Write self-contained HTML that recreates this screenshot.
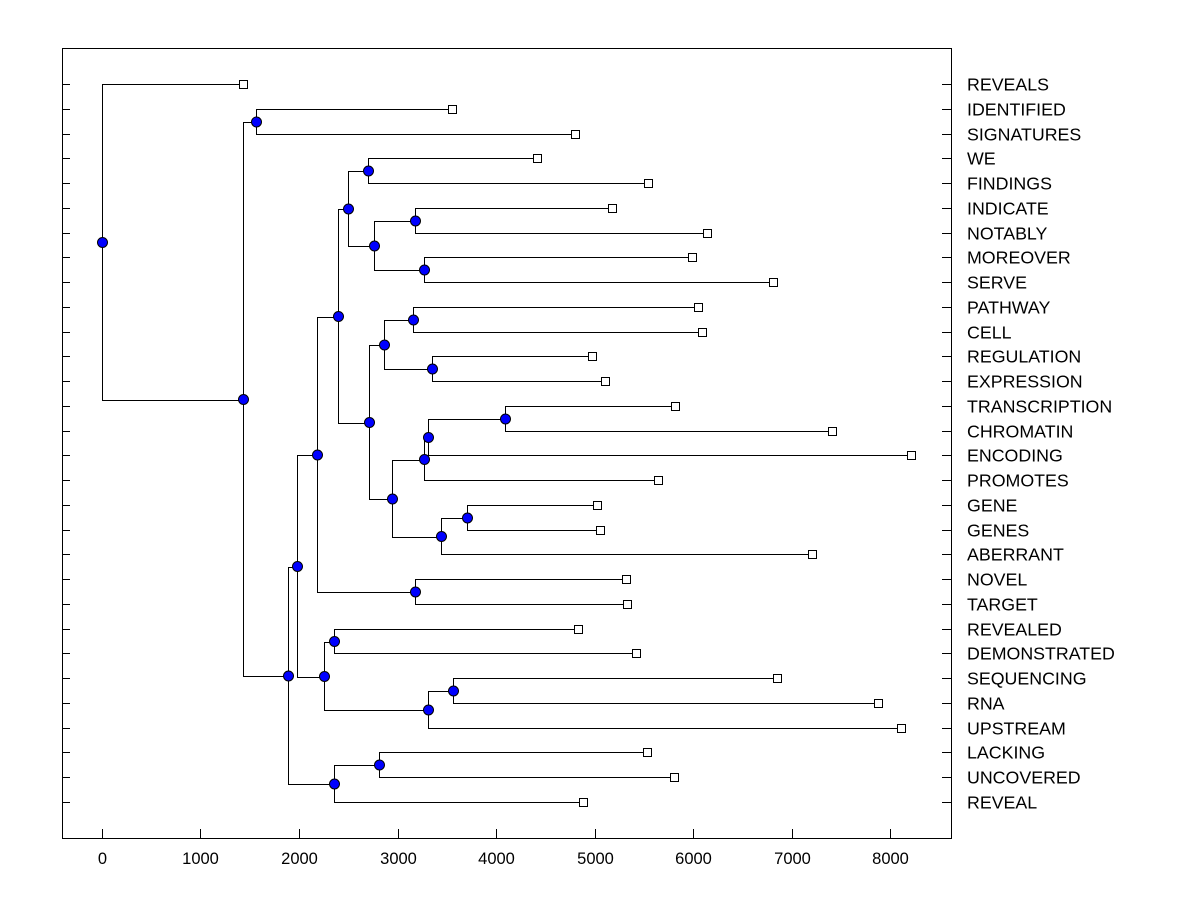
<!DOCTYPE html>
<html><head><meta charset="utf-8"><style>
html,body{margin:0;padding:0;background:#fff;}
svg{display:block;font-family:"Liberation Sans",Arial,sans-serif;}
</style></head><body>
<svg id="chart" width="1200" height="900" viewBox="0 0 1200 900" xmlns="http://www.w3.org/2000/svg">
<rect x="0" y="0" width="1200" height="900" fill="#fff"/>
<rect x="62.5" y="48.5" width="889" height="790" fill="none" stroke="#000" stroke-width="1"/>
<g id="g"></g>
</svg>
<script>
const leafLabels = ["REVEALS","IDENTIFIED","SIGNATURES","WE","FINDINGS","INDICATE","NOTABLY","MOREOVER","SERVE","PATHWAY","CELL","REGULATION","EXPRESSION","TRANSCRIPTION","CHROMATIN","ENCODING","PROMOTES","GENE","GENES","ABERRANT","NOVEL","TARGET","REVEALED","DEMONSTRATED","SEQUENCING","RNA","UPSTREAM","LACKING","UNCOVERED","REVEAL"];
const leafValues = [1430,3550,4800,4420,5540,5180,6140,5990,6810,6050,6090,4970,5110,5820,7410,8210,5640,5030,5060,7210,5320,5330,4830,5420,6850,7880,8110,5530,5810,4880];
// internal nodes: name, value, child1, child2 (leaf index as number, node name as string)
const nodeNames = ["B","N","O","M","L","J","R","S","P","V","T","W","X","U","Q","K","H","I","F","Y","AA","Z","G","D","AB","E","C","A","root"];
const nodeValues = [1563,3178,3269,2761,2700,2497,3157,3350,2863,4091,3310,3269,3706,3442,2944,2711,2396,3178,2183,2355,3563,3310,2254,1980,2812,2355,1888,1430,0];
const nodeChildren = [[1,2],[5,6],[7,8],["N","O"],[3,4],["L","M"],[9,10],[11,12],["R","S"],[13,14],["V",15],["T",16],[17,18],["X",19],["W","U"],["P","Q"],["J","K"],[20,21],["H","I"],[22,23],[24,25],["AA",26],["Y","Z"],["F","G"],[27,28],["AB",29],["D","E"],["B","C"],[0,"A"]];
const xTicks = [0,1000,2000,3000,4000,5000,6000,7000,8000];

const X0=62,X1=951,VMIN=-406,VMAX=8619;
const px = v => Math.round(v)+0.5;
const xs = v => px(X0 + (v-VMIN)/(VMAX-VMIN)*(X1-X0));
const ys = i => px(84 + i*(802-84)/29);
const NS="http://www.w3.org/2000/svg";
const g=document.getElementById('g');
function mk(t,a){const e=document.createElementNS(NS,t);for(const k in a)e.setAttribute(k,a[k]);g.appendChild(e);return e;}

leafLabels.forEach((lab,i)=>{
  const y=ys(i);
  const t1=mk('line',{x1:62,x2:70,y1:y,y2:y,stroke:'#000'});
  
  
  const t2=mk('line',{x1:942,x2:951,y1:y,y2:y,stroke:'#000'});
  
  
  const tx=mk('text',{x:967,y:y+6,'font-size':17.8,fill:'#000'});
  tx.textContent=lab;
  
  
});
xTicks.forEach(v=>{
  const x=xs(v);
  const l=mk('line',{x1:x,x2:x,y1:829,y2:838,stroke:'#000'});
  
  
  const t=mk('text',{x:x,y:864,'font-size':16.5,'text-anchor':'middle',fill:'#000'});
  t.textContent=v;
  
  
});

const pos={};
leafValues.forEach((v,i)=>{pos[i]={x:xs(v),y:ys(i)};});
const dots=[];
nodeNames.forEach((n,k)=>{
  const [a,b]=nodeChildren[k];
  const pa=pos[a], pb=pos[b];
  const x=xs(nodeValues[k]);
  const y=(pa.y+pb.y)/2;
  pos[n]={x:x,y:px(y)};
  const p=mk('path',{d:`M${pa.x},${pa.y}H${x}V${pb.y}H${pb.x}`,fill:'none',stroke:'#000','stroke-width':1,'shape-rendering':'crispEdges'});
  
  
  dots.push([n,x,y]);
});
leafValues.forEach((v,i)=>{
  const r=mk('rect',{x:xs(v)-4,y:ys(i)-4,width:8,height:8,fill:'#fff',stroke:'#000'});
  
  
});
dots.forEach(([n,x,y])=>{
  const c=mk('circle',{cx:x,cy:y,r:5,fill:'#0000ff',stroke:'#000'});
  
  
});
</script>
</body></html>
